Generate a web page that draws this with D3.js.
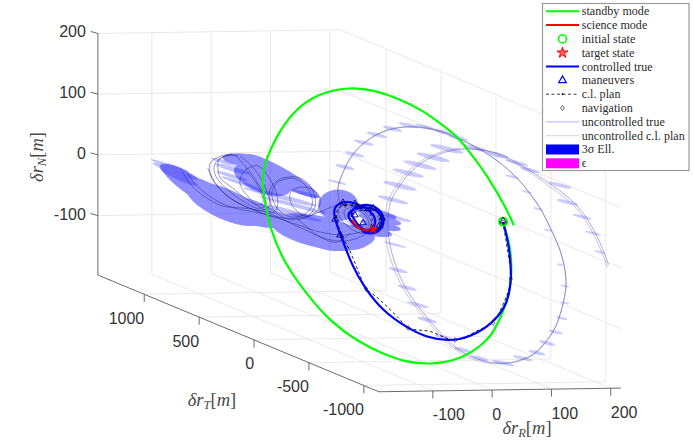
<!DOCTYPE html>
<html><head><meta charset="utf-8">
<script src="https://cdnjs.cloudflare.com/ajax/libs/d3/7.8.5/d3.min.js"></script>
<style>html,body{margin:0;padding:0;background:#fff;overflow:hidden}svg{display:block}</style>
</head><body><svg id="c" width="694" height="441"></svg>
<script>
// Tick labels
const tickR=[-100,0,100,200];
const tickT=[1000,500,0,-500,-1000];
const tickN=[200,100,0,-100];
const limR=[-191,217], limT=[-1137,1422], limN=[-198,200];
// Trajectories, as [dR, dN] seen on the view plane
const standbyPath=[[229,-7],[241,-44],[244,-86],[241,-119],[229,-156],[212,-189],[202,-201],[178,-221],[144,-236],[106,-241],[67,-238],[26,-224],[-17,-203],[-63,-170],[-102,-126],[-142,-71],[-164,-17],[-174,30],[-178,68],[-171,96],[-154,133],[-127,174],[-85,205],[-29,216],[10,211],[55,196],[94,177],[128,152],[151,135],[170,112],[202,71],[236,13],[247,-12]];
const sciencePath=[[-26,-3],[-16,-15],[-1,-20],[13,-20]];
const controlledPath=[[229,-7],[229,-7],[237,-36],[241,-66],[243,-97],[239,-127],[232,-147],[212,-173],[173,-197],[136,-203],[101,-197],[67,-181],[26,-153],[-4,-116],[-26,-78],[-43,-33],[-56,0],[-57,18],[-41,28],[-21,25],[0,16],[16,0],[11,-18],[-7,-22],[-26,-9],[-35,6],[-24,15],[-7,18],[10,18],[28,0],[23,-17],[5,-25],[-12,-17],[-24,0],[-30,12],[-12,22],[12,22],[30,3],[26,-18],[8,-28],[-8,-22]];
const planPath=[[229,-7],[231,-20],[239,-69],[243,-100],[232,-135],[212,-171],[185,-186],[148,-201],[106,-187],[69,-181],[52,-164],[30,-143],[13,-128],[-2,-117],[-12,-95],[-30,-53],[-43,-28],[-51,-3],[-49,16],[-29,21],[-9,16],[8,0],[1,-20],[-21,-12],[-29,8],[-4,18],[21,5],[18,-16],[-4,-21]];
const maneuvers=[[229,-5],[-46,-28],[-54,-2],[-41,25],[-21,23],[-7,16],[10,16],[25,0],[21,-12],[10,-18],[-7,-8],[-21,5]];
const navigation=[[229,-7],[242,-100],[212,-173],[148,-201],[69,-181],[-2,-117],[-37,21],[-16,20],[5,16],[21,3],[15,-16],[-9,-18]];
const initialState=[229,-6];
const targetState=[10,-19];
const uncontrolledTrue=[[-46,21],[-46,21],[-51,46],[-46,63],[-34,91],[-17,115],[10,135],[38,147],[69,151],[106,148],[139,138],[178,120],[219,96],[257,63],[274,41],[295,13],[308,-15],[325,-49],[333,-81],[336,-105],[334,-127],[321,-176],[306,-198],[286,-222],[266,-232],[246,-238],[224,-240],[185,-235],[144,-213],[101,-165],[60,-114],[38,-53],[33,-8],[38,30],[55,54],[77,82],[106,100],[139,112],[178,115],[219,109],[252,92],[286,71],[308,56],[354,25],[387,-25],[407,-77],[407,-77]];
const uncontrolledPlan=[[-46,21],[-46,21],[-52,46],[-47,63],[-35,92],[-18,116],[10,136],[38,148],[69,152],[106,149],[139,139],[178,121],[219,97],[257,62],[274,40],[295,12],[308,-16],[325,-50],[333,-82],[336,-105],[334,-128],[321,-177],[306,-199],[286,-223],[266,-233],[246,-239],[224,-241],[185,-238],[144,-217],[97,-166],[55,-114],[33,-53],[28,-8],[33,30],[50,54],[74,84],[102,102],[139,114],[178,117],[219,107],[252,89],[286,68],[308,51],[354,20],[385,-30],[405,-81],[405,-81]];
const loopA=[[-223,104],[-245,100],[-258,87],[-255,68],[-235,46],[-210,28],[-184,16],[-171,21],[-178,46],[-198,76],[-223,104]];
const loopB=[[-218,102],[-240,104],[-265,90],[-262,65],[-240,40],[-212,22],[-180,12],[-165,20],[-172,50],[-190,80],[-215,103]];
const loopC=[[-228,106],[-250,96],[-252,82],[-248,66],[-228,50],[-205,32],[-186,22],[-176,26],[-184,52],[-205,80]];
const loopD=[[-186,87],[-206,79],[-215,59],[-201,35],[-178,16],[-156,10],[-151,30],[-161,59],[-178,82],[-186,87]];
const loopE=[[-127,66],[-151,59],[-161,41],[-152,16],[-130,2],[-108,5],[-93,21],[-97,43],[-110,59],[-127,66]];
const loopF=[[-122,68],[-148,64],[-165,44],[-158,14],[-134,-2],[-104,1],[-88,19],[-92,45],[-106,62],[-122,68]];
const loopG=[[-113,51],[-129,43],[-129,25],[-113,7],[-97,3],[-81,18],[-81,36],[-97,49],[-113,51]];
const loopH=[[-29,23],[-46,18],[-48,5],[-34,-13],[-12,-25],[5,-23],[8,-12],[-4,10],[-29,23]];
const loopI=[[-24,18],[-38,13],[-38,2],[-26,-12],[-9,-18],[3,-13],[-4,5],[-24,18]];
const arcA=[[-312,76],[-296,53],[-274,35],[-245,20],[-206,16],[-172,10],[-113,-16],[-63,-36],[-26,-36],[5,-23]];
const arcB=[[-304,74],[-287,53],[-257,30],[-223,16],[-181,8],[-130,-7],[-80,-23],[-38,-28],[-4,-21]];
const arcC=[[-269,82],[-257,59],[-235,35],[-198,16],[-156,2],[-113,0],[-80,10],[-54,21]];
const arcD=[[-119,0],[-80,-31],[-51,-40],[-29,-25]];
// 3-sigma ellipses: [dR, dN, half length, half thickness, tilt degrees]
const sigmaLarge=[[-319,66,37,10,36],[-295,53,61,16,34],[-274,44,61,16,25],[-240,23,71,25,24],[-203,12,67,20,19],[-177,63,51,21,22],[-164,3,47,10,12],[-207,96,37,10,6],[-144,69,71,13,30],[-80,-23,84,26,12],[-113,-20,47,12,15],[-38,-36,51,18,-5],[-12,-23,30,13,0],[-49,21,34,26,0],[13,8,37,7,12],[21,-2,37,7,12],[23,-12,34,7,12],[15,-23,27,7,10]];
const sigmaPale=[[-333,86,34,3,18],[-324,77,40,5,20],[-319,68,34,5,25],[-240,92,24,3,15],[-228,81,30,4,16],[-228,69,27,3,17],[-214,58,34,3,18],[-147,35,64,4,14],[-130,23,54,3,14],[-139,12,44,4,14],[-110,3,34,3,14],[-100,15,30,3,14],[-105,40,28,3,14]];
const sigmaSmall=[[-38,84,17,3],[-22,105,17,3],[-6,124,17,3],[16,137,18,3],[42,147,17,3],[69,153,17,3],[97,150,17,3],[126,142,17,3],[153,132,17,3],[182,115,20,3.5],[219,104,20,3.5],[252,91,20,3],[274,79,17,3],[134,114,29,4],[111,100,29,4],[89,87,29,4],[69,74,27,4],[55,53,29,4],[43,30,27,3.5],[50,0,25,3],[47,-44,20,2],[52,-86,17,3],[67,-115,17,3],[85,-143,19,3],[101,-168,17,3],[128,-196,15,3],[161,-217,15,3],[190,-231,14,3],[229,-239,19,3],[262,-231,17,3],[286,-222,15,3],[303,-206,14,3],[318,-188,12,2.5],[328,-165,10,2],[333,-140,8,1.5],[333,-112,7,1.5],[325,-77,5,1.5],[305,-20,7,1.5],[288,15,8,1.5],[269,43,10,1.5],[244,68,12,2],[325,54,20,3],[338,26,19,3],[362,2,17,2.5],[381,-25,14,2],[392,-56,10,1.5],[-51,59,17,2]];
const legendLabels=["standby mode","science mode","initial state","target state","controlled true","maneuvers","c.l. plan","navigation","uncontrolled true","uncontrolled c.l. plan","3σ Ell.","ϵ"];

// Scales
const xPlane=d3.scaleLinear().domain([0,100]).range([367.3,426.6]);
const yPlane=d3.scaleLinear().domain([0,100]).range([218,157.3]);
const tShiftX=d3.scaleLinear().domain([0,1000]).range([0,-109.8]);
const tShiftY=d3.scaleLinear().domain([0,1000]).range([0,-45.6]);
const rShiftY=d3.scaleLinear().domain([0,100]).range([0,-0.9]);
const project=(r,t,n)=>[xPlane(r)+tShiftX(t),yPlane(n)+tShiftY(t)+rShiftY(r)];

const svg=d3.select("#c");
const seg=(g,a,b,stroke,w)=>g.append("line").attr("x1",a[0]).attr("y1",a[1]).attr("x2",b[0]).attr("y2",b[1]).attr("stroke",stroke).attr("stroke-width",w);

// Grid
const grid=svg.append("g");
const GC="#e6e6e6",GW=0.9;
tickR.forEach(r=>{
  seg(grid,project(r,limT[0],limN[0]),project(r,limT[1],limN[0]),GC,GW);
  seg(grid,project(r,limT[1],limN[0]),project(r,limT[1],limN[1]),GC,GW);
});
tickT.forEach(t=>{
  seg(grid,project(limR[0],t,limN[0]),project(limR[1],t,limN[0]),GC,GW);
  seg(grid,project(limR[1],t,limN[0]),project(limR[1],t,limN[1]),GC,GW);
});
tickN.forEach(n=>{
  seg(grid,project(limR[0],limT[1],n),project(limR[1],limT[1],n),GC,GW);
  seg(grid,project(limR[1],limT[1],n),project(limR[1],limT[0],n),GC,GW);
});

// Axes
const axes=svg.append("g");
const AC="#5a5a5a",AW=0.9;
seg(axes,project(limR[0],limT[1],limN[0]),project(limR[0],limT[1],limN[1]),AC,AW);
seg(axes,project(limR[0],limT[1],limN[0]),project(limR[0],limT[0],limN[0]),AC,AW);
seg(axes,project(limR[0],limT[0],limN[0]),project(limR[1],limT[0],limN[0]),AC,AW);
const tickText=(x,y,s,anchor)=>axes.append("text").attr("x",x).attr("y",y).attr("text-anchor",anchor).attr("dominant-baseline","central").attr("font-family","'Liberation Sans',Arial,sans-serif").attr("font-size",16).attr("fill","#333").text(s);
tickN.forEach(n=>{
  const p=project(limR[0],limT[1],n);
  seg(axes,p,[p[0]-7.3,p[1]-2],AC,AW);
  tickText(p[0]-12,p[1]-1.5,n,"end");
});
tickT.forEach(t=>{
  const p=project(limR[0],t,limN[0]);
  seg(axes,p,[p[0],p[1]+7.7],AC,AW);
  tickText(p[0],p[1]+24,t,"end");
});
tickR.forEach(r=>{
  const p=project(r,limT[0],limN[0]);
  seg(axes,p,[p[0],p[1]+7.5],AC,AW);
  tickText(p[0],p[1]+24,r,"start");
});
// Axis labels
const axLabel=(sub,attrs)=>{
  const t=axes.append("text").attr("font-family","'Liberation Serif',serif").attr("font-size",18.5).attr("fill","#4a4a4a").attr("text-anchor","middle");
  Object.entries(attrs).forEach(([k,v])=>t.attr(k,v));
  t.append("tspan").attr("font-style","italic").text("δr");
  t.append("tspan").attr("font-style","italic").attr("font-size",12.5).attr("dy",3).text(sub);
  t.append("tspan").attr("dy",-3).text("[");
  t.append("tspan").attr("font-style","italic").text("m");
  t.append("tspan").text("]");
};
axLabel("T",{x:212,y:406});
axLabel("R",{x:527,y:434});
axLabel("N",{x:43,y:157,transform:"rotate(-90 43 157)"});

// Ellipses
const radX=a=>xPlane(a)-xPlane(0), radY=b=>yPlane(0)-yPlane(b);
const ellipses=(data,op,tilt)=>svg.append("g").attr("opacity",op).selectAll("ellipse").data(data).join("ellipse")
  .attr("rx",d=>radX(d[2])).attr("ry",d=>radY(d[3])).attr("fill","#0000ff")
  .attr("transform",d=>`translate(${xPlane(d[0])},${yPlane(d[1])}) rotate(${tilt(d)})`);
ellipses(sigmaPale,0.24,d=>d[4]);
ellipses(sigmaLarge,0.44,d=>d[4]);
ellipses(sigmaSmall,0.2,()=>14);

// Lines
const smooth=d3.line().x(d=>xPlane(d[0])).y(d=>yPlane(d[1])).curve(d3.curveBasis);
const line=d3.line().x(d=>xPlane(d[0])).y(d=>yPlane(d[1])).curve(d3.curveCatmullRom.alpha(0.5));
const draw=(gen,data,stroke,w,extra={})=>{
  const p=svg.append("path").attr("d",gen(data)).attr("fill","none").attr("stroke",stroke).attr("stroke-width",w).attr("stroke-linejoin","round");
  Object.entries(extra).forEach(([k,v])=>p.attr(k,v));
  return p;
};
draw(smooth,uncontrolledPlan,"#8c8c8c",0.7,{opacity:0.7});
draw(smooth,uncontrolledTrue,"#2020e0",0.7,{opacity:0.55});
[loopA,loopB,loopC,loopD,loopE,loopF,loopG,loopH,loopI,arcA,arcB,arcC,arcD].forEach(l=>draw(line,l,"#1a1a7a",0.6,{opacity:0.75}));
draw(smooth,standbyPath,"#00ff00",2.2);
draw(line,planPath,"#000",0.85,{"stroke-dasharray":"3 2.5"});
draw(smooth,controlledPath,"#0000ff",2.2);
draw(line,sciencePath,"#ff0000",2);

// Markers
const tri=d3.symbol().type(d3.symbolTriangle).size(20)();
const star=d3.symbol().type(d3.symbolStar).size(24)();
const diamond=s=>`M0,${-s}L${s*0.75},0L0,${s}L${-s*0.75},0Z`;
svg.append("circle").attr("cx",xPlane(initialState[0])).attr("cy",yPlane(initialState[1])).attr("r",4).attr("fill","none").attr("stroke","#00ff00").attr("stroke-width",2);
svg.selectAll("path.man").data(maneuvers).join("path").attr("class","man").attr("d",tri)
  .attr("transform",d=>`translate(${xPlane(d[0])},${yPlane(d[1])})`).attr("fill","none").attr("stroke","#00007a").attr("stroke-width",0.9);
svg.selectAll("path.nav").data(navigation).join("path").attr("class","nav").attr("d",diamond(2.4))
  .attr("transform",d=>`translate(${xPlane(d[0])},${yPlane(d[1])})`).attr("fill","none").attr("stroke","#222").attr("stroke-width",0.6);
svg.append("path").attr("d",star).attr("transform",`translate(${xPlane(targetState[0])},${yPlane(targetState[1])})`).attr("fill","#ff0000").attr("stroke","#ff0000").attr("stroke-width",0.5);

// Legend
const lg=svg.append("g");
const lgX=542.5,lgW=146.5,lgY=3.5,lgH=167;
lg.append("rect").attr("x",lgX).attr("y",lgY).attr("width",lgW).attr("height",lgH).attr("fill","#fff").attr("stroke","#9a9a9a").attr("stroke-width",1.2);
const rowY=d3.scaleLinear().domain([0,11]).range([11.3,163.3]);
const sx0=546,sx1=579,sm=(sx0+sx1)/2;
legendLabels.forEach((s,i)=>{
  const y=rowY(i);
  lg.append("text").attr("x",581.7).attr("y",y).attr("dominant-baseline","central").attr("font-family","'Liberation Serif',serif").attr("font-size",12).attr("letter-spacing",0.05).attr("fill","#2a2a2a").text(s);
});
const lgLine=(i,c,w,extra={})=>{const l=lg.append("line").attr("x1",sx0).attr("x2",sx1).attr("y1",rowY(i)).attr("y2",rowY(i)).attr("stroke",c).attr("stroke-width",w);Object.entries(extra).forEach(([k,v])=>l.attr(k,v));};
lgLine(0,"#00ff00",2);
lgLine(1,"#ff0000",2);
lg.append("circle").attr("cx",sm).attr("cy",rowY(2)).attr("r",4).attr("fill","none").attr("stroke","#00ff00").attr("stroke-width",1.6);
lg.append("path").attr("d",d3.symbol().type(d3.symbolStar).size(36)()).attr("transform",`translate(${sm},${rowY(3)})`).attr("fill","#ff6060").attr("stroke","#ff0000").attr("stroke-width",1);
lgLine(4,"#0000ff",2);
lg.append("path").attr("d",d3.symbol().type(d3.symbolTriangle).size(26)()).attr("transform",`translate(${sm},${rowY(5)})`).attr("fill","none").attr("stroke","#0000ff").attr("stroke-width",1.2);
lgLine(6,"#000",0.8,{"stroke-dasharray":"3 2.5"});
lg.append("circle").attr("cx",sm).attr("cy",rowY(6)).attr("r",0.9).attr("fill","#000");
lg.append("path").attr("d",diamond(2.6)).attr("transform",`translate(${sm},${rowY(7)})`).attr("fill","none").attr("stroke","#222").attr("stroke-width",0.7);
lgLine(8,"#b4b4ff",1);
lgLine(9,"#d8d8d8",1);
lg.append("rect").attr("x",sx0).attr("y",rowY(10)-5).attr("width",sx1-sx0).attr("height",10).attr("fill","#0000ff");
lg.append("rect").attr("x",sx0).attr("y",rowY(11)-5).attr("width",sx1-sx0).attr("height",10).attr("fill","#ff00ff");
</script></body></html>
